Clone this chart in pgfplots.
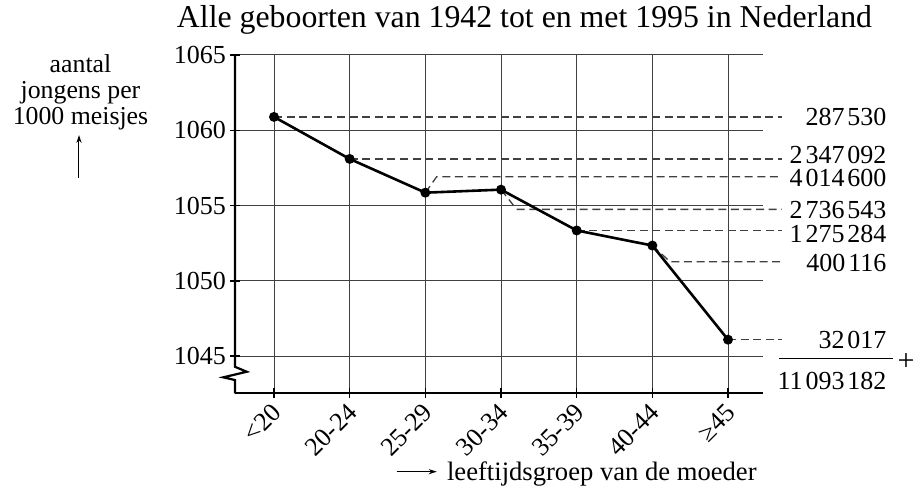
\documentclass[border=0pt]{standalone}
\usepackage{fontspec}
\setmainfont{Liberation Serif}
\usepackage{pgfplots}
\pgfplotsset{compat=1.18}
\usetikzlibrary{arrows.meta}
\newcommand{\ts}{\hspace{1.4pt}}
\begin{document}
\begin{tikzpicture}
\begin{axis}[name=ax, scale only axis, width=264pt, height=169.15pt,
  xmin=-0.5154, xmax=6.462, ymin=1042.54, ymax=1065,
  axis x line=bottom, axis y line=left,
  x axis line style={-, line width=1.1pt},
  y axis line style={draw=none},
  xtick={0,1,2,3,4,5,6},
  xticklabels={<20,20-24,25-29,30-34,35-39,40-44,≥45},
  ytick={1045,1050,1055,1060,1065},
  yticklabels={1045,1050,1055,1060,1065},
  grid=major, major grid style={black!75, line width=0.5pt},
  tick align=center, major tick length=5pt,
  tick style={black, line width=0.8pt},
  ticklabel style={font=\fontsize{13}{15}\selectfont},
  xticklabel style={xshift=1.5pt, yshift=-5pt, rotate=45, anchor=east, inner sep=0pt},
  yticklabel style={xshift=1.5pt},
  clip=false,
]
% manual y axis with break
\addplot[black, line width=1.1pt, line join=miter] coordinates {(-0.5154,1065)(-0.5154,1044.30)(-0.36,1043.97)(-0.67,1043.60)(-0.5154,1043.42)(-0.5154,1042.54)};
% leader lines
\pgfplotsset{leader/.style={black!75, line width=0.65pt, dash pattern=on 4pt off 2.3pt}}
\addplot[leader] coordinates {(0,1060.89)(6.713,1060.89)};
\addplot[leader] coordinates {(1,1058.1)(6.713,1058.1)};
\addplot[leader] coordinates {(2,1055.86)(2.15,1056.92)(6.713,1056.92)};
\addplot[leader] coordinates {(3,1056.06)(3.207,1054.75)(6.713,1054.75)};
\addplot[leader] coordinates {(4,1053.35)(6.713,1053.35)};
\addplot[leader] coordinates {(5,1052.35)(5.233,1051.28)(6.713,1051.28)};
\addplot[leader] coordinates {(6,1046.1)(6.713,1046.1)};
% data
\addplot[black, line width=1.3pt, mark=*, mark size=1.8pt] coordinates {(0,1060.89)(1,1058.1)(2,1055.86)(3,1056.06)(4,1053.35)(5,1052.35)(6,1046.1)};
% sum line
\addplot[black, line width=0.8pt] coordinates {(6.674,1044.86)(8.176,1044.86)};
\begin{scope}[every node/.style={anchor=east, inner sep=0pt, font=\fontsize{13}{15}\selectfont}]
\node at (axis cs:8.097,1060.88) {287\ts530};
\node at (axis cs:8.097,1058.36) {2\ts347\ts092};
\node at (axis cs:8.097,1056.85) {4\ts014\ts600};
\node at (axis cs:8.097,1054.71) {2\ts736\ts543};
\node at (axis cs:8.097,1053.13) {1\ts275\ts284};
\node at (axis cs:8.097,1051.22) {400\ts116};
\node at (axis cs:8.097,1046.10) {32\ts017};
\node at (axis cs:8.097,1043.39) {11\ts093\ts182};
\end{scope}
\node[inner sep=0pt, font=\fontsize{15}{17}\selectfont] at (axis cs:8.352,1044.63) {+};
\end{axis}
% title
\node[anchor=base, inner sep=0pt, font=\fontsize{15.9}{18}\selectfont] at ([shift={(144.75pt,182.65pt)}]ax.south west) {Alle geboorten van 1942 tot en met 1995 in Nederland};
% y label
\begin{scope}[every node/.style={anchor=base, inner sep=0pt, font=\fontsize{12.9}{15}\selectfont}]
\node at ([shift={(-77.25pt,160.4pt)}]ax.south west) {aantal};
\node at ([shift={(-77.25pt,147.3pt)}]ax.south west) {jongens per};
\node at ([shift={(-77.25pt,134.15pt)}]ax.south west) {1000 meisjes};
\end{scope}
\draw[line width=0.5pt, -{Stealth[length=4pt,width=2.6pt]}] ([shift={(-78pt,107.65pt)}]ax.south west) -- ([shift={(-78pt,129.15pt)}]ax.south west);
% x label
\draw[line width=0.5pt, -{Stealth[length=4pt,width=2.6pt]}] ([shift={(80.85pt,-39.2pt)}]ax.south west) -- ([shift={(100.85pt,-39.2pt)}]ax.south west);
\node[anchor=base west, inner sep=0pt, font=\fontsize{13.3}{15}\selectfont] at ([shift={(105.85pt,-43.7pt)}]ax.south west) {leeftijdsgroep van de moeder};
\pgfresetboundingbox
\path ([shift={(-117.5pt,-48.85pt)}]ax.south west) rectangle ([shift={(339.5pt,196.65pt)}]ax.south west);
\end{tikzpicture}
\end{document}
